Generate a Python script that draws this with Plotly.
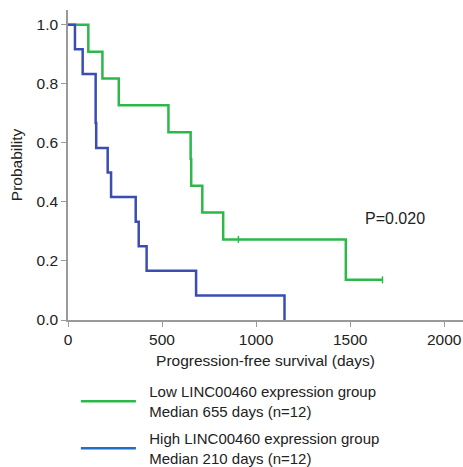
import plotly.graph_objects as go

low_days = [0, 108, 183, 270, 534, 652, 655, 714, 825, 1477, 1672]
low_surv = [1.0, 0.909, 0.818, 0.727, 0.636, 0.545, 0.455, 0.364, 0.273, 0.136, 0.136]
low_censor_days = [906, 1672]
low_censor_surv = [0.273, 0.136]

high_days = [0, 37, 78, 147, 150, 211, 229, 360, 376, 418, 681, 1151]
high_surv = [1.0, 0.917, 0.833, 0.667, 0.583, 0.5, 0.417, 0.333, 0.25, 0.167, 0.083, 0.0]

low_name = "&nbsp;&nbsp;Low LINC00460 expression group<br>&nbsp;&nbsp;Median 655 days (n=12)"
high_name = "&nbsp;&nbsp;High LINC00460 expression group<br>&nbsp;&nbsp;Median 210 days (n=12)"

x_ticks = [0, 500, 1000, 1500, 2000]
y_ticks = [0.0, 0.2, 0.4, 0.6, 0.8, 1.0]

GREEN = "#2db84a"
BLUE = "#3a4db3"
BLUE_LEGEND = "#1f6fc7"
TXT = "#222222"
FS = 15.5

fig = go.Figure()
fig.add_trace(go.Scatter(x=low_days, y=low_surv, mode="lines", line_shape="hv",
                         line=dict(color=GREEN, width=2.5), showlegend=False))
fig.add_trace(go.Scatter(x=low_censor_days, y=low_censor_surv, mode="markers",
                         marker=dict(symbol="line-ns", size=5, line=dict(color=GREEN, width=1.5)),
                         showlegend=False, hoverinfo="skip"))
fig.add_trace(go.Scatter(x=high_days, y=high_surv, mode="lines", line_shape="hv",
                         line=dict(color=BLUE, width=2.5), showlegend=False))
# legend entries
fig.add_trace(go.Scatter(x=[None], y=[None], mode="lines", name=low_name, legendgroup="low",
                         line=dict(color=GREEN, width=2.5)))
fig.add_trace(go.Scatter(x=[None], y=[None], mode="lines", name=high_name, legendgroup="high",
                         line=dict(color=BLUE_LEGEND, width=2.5)))

fig.add_annotation(x=1740, y=0.345, xref="x", yref="y", text="P=0.020", showarrow=False,
                   font=dict(size=16, color=TXT), xanchor="center", yanchor="middle")

axis_common = dict(showline=True, linecolor="#9a9a9a", linewidth=1.5, ticks="outside",
                   ticklen=5, tickcolor="#9a9a9a", tickwidth=1.2, showgrid=False,
                   zeroline=False, tickfont=dict(size=FS, color=TXT), automargin=False)
fig.update_xaxes(range=[0, 2100], tickvals=x_ticks, ticktext=[str(v) for v in x_ticks],
                 title=dict(text="Progression-free survival (days)", font=dict(size=FS, color=TXT),
                            standoff=8), **axis_common)
fig.update_yaxes(range=[0, 1.05], tickvals=y_ticks, ticktext=[f"{v:.1f}" for v in y_ticks],
                 title=dict(text="Probability", font=dict(size=FS, color=TXT), standoff=10),
                 **axis_common)

fig.update_layout(
    width=463, height=467,
    margin=dict(l=68, r=0, t=10, b=147, autoexpand=False),
    plot_bgcolor="white", paper_bgcolor="white",
    font=dict(family="Liberation Sans, Arial, sans-serif", color=TXT),
    showlegend=True,
    legend=dict(x=0.02, y=-0.178, xanchor="left", yanchor="top", font=dict(size=15, color=TXT),
                itemwidth=55, traceorder="grouped", tracegroupgap=5, bgcolor="rgba(0,0,0,0)"),
)

fig.write_html("out.html", config={"displayModeBar": False},
               post_script="document.body.style.margin='0';document.body.style.overflow='hidden';")
